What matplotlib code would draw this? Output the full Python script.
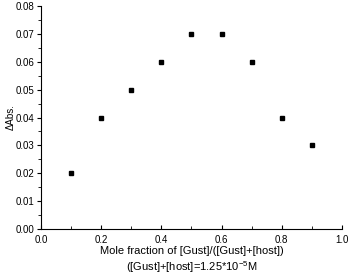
import matplotlib
matplotlib.use("Agg")
import matplotlib.pyplot as plt
from matplotlib.ticker import MultipleLocator

plt.rcParams['font.family'] = ['Liberation Sans', 'DejaVu Sans']
plt.rcParams['mathtext.fontset'] = 'custom'
plt.rcParams['mathtext.rm'] = 'Liberation Sans'

# data
mole_fraction = [0.1, 0.2, 0.3, 0.4, 0.5, 0.6, 0.7, 0.8, 0.9]
delta_abs = [0.02, 0.04, 0.05, 0.06, 0.07, 0.07, 0.06, 0.04, 0.03]

fig = plt.figure(figsize=(3.5, 2.74), dpi=100)
ax = fig.add_axes([0.117, 0.164, 0.86, 0.814])

ax.plot(mole_fraction, delta_abs, 's', color='black', markersize=3.5)

ax.set_xlim(0, 1.0)
ax.set_ylim(0, 0.08)
ax.xaxis.set_major_locator(MultipleLocator(0.2))
ax.xaxis.set_minor_locator(MultipleLocator(0.1))
ax.yaxis.set_major_locator(MultipleLocator(0.01))
ax.yaxis.set_minor_locator(MultipleLocator(0.005))
ax.xaxis.set_major_formatter(plt.FormatStrFormatter('%.1f'))
ax.yaxis.set_major_formatter(plt.FormatStrFormatter('%.2f'))

ax.spines['top'].set_visible(False)
ax.spines['right'].set_visible(False)
ax.tick_params(axis='x', which='both', direction='in', labelsize=7, pad=4)
ax.tick_params(axis='y', which='both', direction='out', labelsize=7, pad=2)
ax.tick_params(which='major', length=3, width=0.8)
ax.tick_params(which='minor', length=2, width=0.6)

ax.set_xlabel('Mole fraction of [Gust]/([Gust]+[host])\n([Gust]+[host]=1.25*10$^{\\mathrm{-5}}$M',
              fontsize=8, linespacing=1.3, labelpad=1)
ax.set_ylabel('ΔAbs.', fontsize=7)
ax.yaxis.set_label_coords(-0.085, 0.5)

fig.savefig('out.png', dpi=100)
